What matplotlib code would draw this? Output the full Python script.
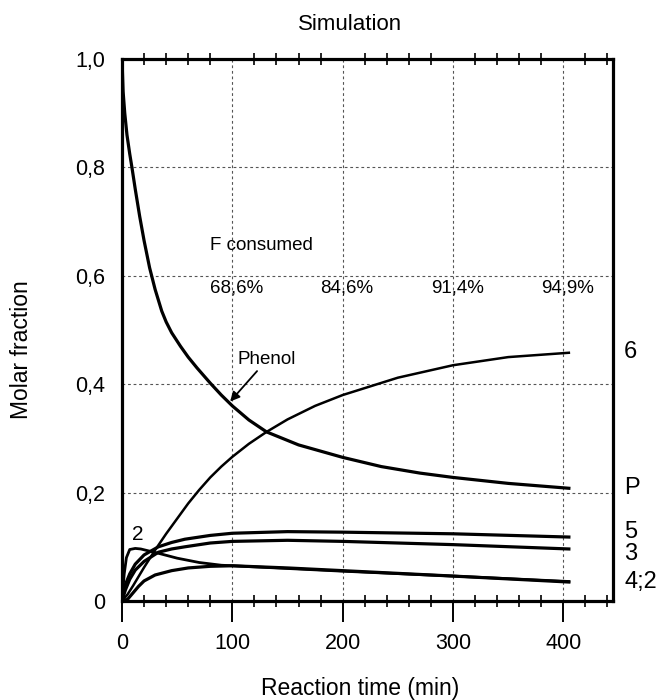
"""Simulation: molar fraction of products versus reaction time."""

import matplotlib

matplotlib.use("Agg")
import matplotlib.pyplot as plt
from matplotlib.ticker import FixedLocator, FuncFormatter, MultipleLocator

plt.rcParams["font.family"] = ["Liberation Sans", "DejaVu Sans"]

# Curves (time in min, molar fraction).
t_phenol = [0, 1, 2.5, 4.5, 7, 9, 12, 16, 20, 25, 30, 36, 40, 45, 53, 60, 68, 80, 90, 100, 115,
            131, 160, 200, 235, 270, 300, 350, 405]
y_phenol = [1.0, 0.94, 0.90, 0.86, 0.825, 0.80, 0.76, 0.71, 0.665, 0.615, 0.575, 0.535, 0.515,
            0.495, 0.47, 0.45, 0.43, 0.402, 0.38, 0.36, 0.334, 0.312, 0.288, 0.265, 0.248,
            0.236, 0.228, 0.217, 0.208]

t_6 = [0, 5, 10, 15, 20, 30, 40, 50, 60, 70, 80, 90, 100, 115, 131, 150, 175, 200, 250, 300,
       350, 405]
y_6 = [0.0, 0.012, 0.028, 0.045, 0.062, 0.094, 0.124, 0.152, 0.18, 0.205, 0.228, 0.248, 0.266,
       0.29, 0.312, 0.335, 0.36, 0.38, 0.412, 0.435, 0.45, 0.458]

t_5 = [0, 3, 7, 12, 20, 33, 45, 57, 80, 100, 150, 200, 300, 405]
y_5 = [0.0, 0.03, 0.05, 0.068, 0.085, 0.1, 0.108, 0.114, 0.121, 0.125, 0.128, 0.127, 0.124, 0.118]

t_3 = [0, 3, 7, 12, 20, 33, 45, 57, 80, 100, 150, 200, 300, 405]
y_3 = [0.0, 0.02, 0.04, 0.057, 0.073, 0.09, 0.096, 0.1, 0.107, 0.11, 0.112, 0.11, 0.104, 0.096]

t_2 = [0, 2, 4, 7, 12, 17, 25, 35, 50, 70, 90, 100, 150, 200, 300, 405]
y_2 = [0.0, 0.05, 0.08, 0.095, 0.097, 0.096, 0.092, 0.087, 0.079, 0.071, 0.066, 0.065, 0.06,
       0.055, 0.046, 0.036]

t_4 = [0, 5, 10, 15, 20, 30, 45, 60, 80, 100, 150, 200, 300, 405]
y_4 = [0.0, 0.003, 0.015, 0.027, 0.037, 0.048, 0.056, 0.061, 0.064, 0.065, 0.061, 0.056, 0.046, 0.035]

# Fraction of F consumed at 100, 200, 300 and 400 min.
consumed_t = [100, 200, 300, 400]
consumed_labels = ["68,6%", "84,6%", "91,4%", "94,9%"]

# End labels on the right side of the frame.
end_labels = ["6", "P", "5", "3", "4;2"]
end_values = [0.46, 0.208, 0.127, 0.087, 0.035]

fig = plt.figure(figsize=(6.58, 7.0), dpi=100)
ax = fig.add_axes([122 / 658, 1 - 601 / 700, 491 / 658, 542 / 700])

ink = "black"
ax.plot(t_phenol, y_phenol, color=ink, lw=2.3)
ax.plot(t_6, y_6, color=ink, lw=1.8)
ax.plot(t_5, y_5, color=ink, lw=2.3)
ax.plot(t_3, y_3, color=ink, lw=2.3)
ax.plot(t_2, y_2, color=ink, lw=2.0)
ax.plot(t_4, y_4, color=ink, lw=2.3)

ax.set_xlim(0, 445)
ax.set_ylim(0, 1.0)

# Dotted grid
grid_kw = dict(color="#555555", lw=0.8, linestyle=(0, (2.5, 2.5)), zorder=0)
for gx in [100, 200, 300, 400]:
    ax.axvline(gx, **grid_kw)
for gy in [0.2, 0.4, 0.6, 0.8]:
    ax.axhline(gy, **grid_kw)

for side in ax.spines.values():
    side.set_linewidth(2.3)

ax.xaxis.set_major_locator(FixedLocator([0, 100, 200, 300, 400]))
ax.xaxis.set_minor_locator(MultipleLocator(20))
ax.yaxis.set_major_locator(FixedLocator([0, 0.2, 0.4, 0.6, 0.8, 1.0]))
ax.yaxis.set_major_formatter(FuncFormatter(lambda v, p: "0" if v == 0 else f"{v:.1f}".replace(".", ",")))
ax.tick_params(axis="x", which="major", direction="out", length=15, width=1.4,
               labelsize=15.5, pad=8, top=False)
ax.tick_params(axis="x", which="minor", direction="inout", length=8, width=1.2, top=True)
ax.tick_params(axis="y", which="both", length=0, labelsize=15.5, pad=12)

ax.text(14.5, 0.123, "2", fontsize=15, ha="center", va="center")
for lab, val in zip(end_labels, end_values):
    ax.text(455, val, lab, fontsize=17, ha="left", va="center", clip_on=False)

ax.text(80, 0.656, "F consumed", fontsize=13.5, ha="left", va="center")
for tx, lab in zip(consumed_t, consumed_labels):
    ax.text(tx + 4, 0.577, lab, fontsize=13.5, ha="center", va="center")

ax.annotate("Phenol", xy=(98, 0.368), xytext=(105, 0.445), fontsize=13.5,
            ha="left", va="center",
            arrowprops=dict(arrowstyle="-|>", color=ink, lw=1.3, mutation_scale=14,
                            shrinkA=0, shrinkB=0),
            )

fig.text(350 / 658, 1 - 24 / 700, "Simulation", fontsize=16, ha="center", va="center")
fig.text(360 / 658, 1 - 688 / 700, "Reaction time (min)", fontsize=16.5, ha="center", va="center")
fig.text(22 / 658, 1 - 350 / 700, "Molar fraction", fontsize=16.5, ha="center", va="center",
         rotation=90)

fig.savefig("out.png", dpi=100)
